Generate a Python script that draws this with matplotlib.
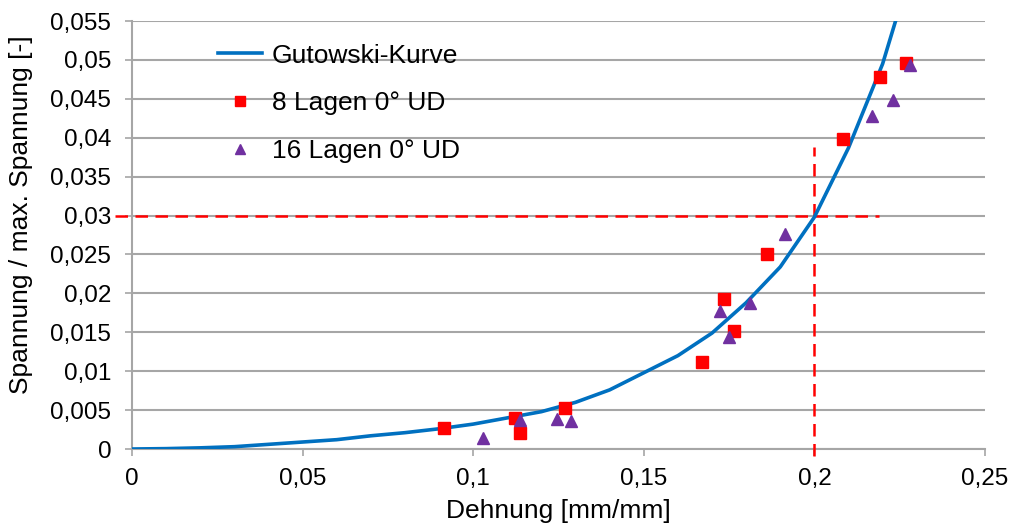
import matplotlib
matplotlib.use("Agg")
import matplotlib.pyplot as plt
from matplotlib.lines import Line2D

plt.rcParams['font.family'] = ['Liberation Sans', 'DejaVu Sans']

# Gutowski curve
curve_x = [0.0, 0.01, 0.02, 0.03, 0.04, 0.05, 0.06, 0.07, 0.08, 0.09, 0.10,
           0.11, 0.12, 0.13, 0.14, 0.15, 0.16, 0.17, 0.18, 0.19, 0.20,
           0.21, 0.22, 0.23]
curve_y = [0.0, 0.00005, 0.00015, 0.0003, 0.0006, 0.0009, 0.0012, 0.0017, 0.0021,
           0.0026, 0.0032, 0.0040, 0.0048, 0.0060, 0.0076, 0.0098, 0.0120,
           0.0149, 0.0188, 0.0234, 0.0298, 0.0387, 0.0495, 0.0640]

# 8 Lagen 0° UD
l8_x = [0.0915, 0.1123, 0.1137, 0.1269, 0.1670, 0.1734, 0.1763, 0.1860,
        0.2085, 0.2193, 0.2268]
l8_y = [0.0027, 0.0040, 0.0021, 0.0053, 0.0112, 0.0193, 0.0152, 0.0250,
        0.0398, 0.0478, 0.0496]

# 16 Lagen 0° UD
l16_x = [0.1029, 0.1137, 0.1246, 0.1287, 0.1722, 0.1751, 0.1810, 0.1915,
         0.2168, 0.2229, 0.2280]
l16_y = [0.0014, 0.0037, 0.0039, 0.0036, 0.0177, 0.0144, 0.0188, 0.0276,
         0.0428, 0.0449, 0.0494]

x_ticks = [0, 0.05, 0.10, 0.15, 0.20, 0.25]
x_labels = ['0', '0,05', '0,1', '0,15', '0,2', '0,25']
y_ticks = [0, 0.005, 0.01, 0.015, 0.02, 0.025, 0.03, 0.035, 0.04, 0.045, 0.05, 0.055]
y_labels = ['0', '0,005', '0,01', '0,015', '0,02', '0,025', '0,03', '0,035',
            '0,04', '0,045', '0,05', '0,055']

ref_x = 0.2
ref_y = 0.03

fig = plt.figure(figsize=(10.09, 5.24), dpi=100)
ax = fig.add_axes([0.1308, 0.1431, 0.8454, 0.8168])

fs_tick = 17.5
fs = 19
grid_c = '#a6a6a6'

ax.set_xlim(0, 0.25)
ax.set_ylim(0, 0.055)
ax.set_xticks(x_ticks)
ax.set_xticklabels(x_labels, fontsize=fs_tick)
ax.set_yticks(y_ticks)
ax.set_yticklabels(y_labels, fontsize=fs_tick)
ax.tick_params(direction='out', length=5, width=1.2, color=grid_c)
ax.tick_params(axis='y', pad=10)
ax.tick_params(axis='x', pad=9)
ax.yaxis.grid(True, color=grid_c, linewidth=1.5)
ax.set_axisbelow(True)
for s in ['top', 'right']:
    ax.spines[s].set_visible(False)
for s in ['left', 'bottom']:
    ax.spines[s].set_color(grid_c)
    ax.spines[s].set_linewidth(1.5)

# reference dashed lines
ax.plot([-0.005, 0.219], [ref_y, ref_y], color='#ff0000', lw=1.8,
        dashes=(5, 3), clip_on=False, zorder=3)
ax.plot([ref_x, ref_x], [-0.0009, 0.0388], color='#ff0000', lw=1.8,
        dashes=(5, 3), clip_on=False, zorder=3)

ax.plot(curve_x, curve_y, color='#0070c0', lw=2.6, zorder=4,
        label='Gutowski-Kurve')
ax.plot(l8_x, l8_y, linestyle='none', marker='s', markersize=8.5,
        color='#ff0000', zorder=5, label='8 Lagen 0° UD')
ax.plot(l16_x, l16_y, linestyle='none', marker='^', markersize=9,
        color='#7030a0', zorder=5, label='16 Lagen 0° UD')

handles = [
    Line2D([], [], color='#0070c0', lw=2.6),
    Line2D([], [], linestyle='none', marker='s', markersize=7, color='#ff0000'),
    Line2D([], [], linestyle='none', marker='^', markersize=7.5, color='#7030a0'),
]
ax.legend(handles, ['Gutowski-Kurve', '8 Lagen 0° UD', '16 Lagen 0° UD'],
          loc='upper left', bbox_to_anchor=(0.1006, 0.947), frameon=False,
          fontsize=fs, handlelength=1.67, handletextpad=0.38,
          labelspacing=0.9, borderpad=0, borderaxespad=0)

ax.set_xlabel('Dehnung [mm/mm]', fontsize=fs, labelpad=6)
ax.set_ylabel('Spannung / max. Spannung [-]', fontsize=fs)
ax.yaxis.set_label_coords(-0.1158, 0.547)

fig.savefig('out.png', dpi=100)
